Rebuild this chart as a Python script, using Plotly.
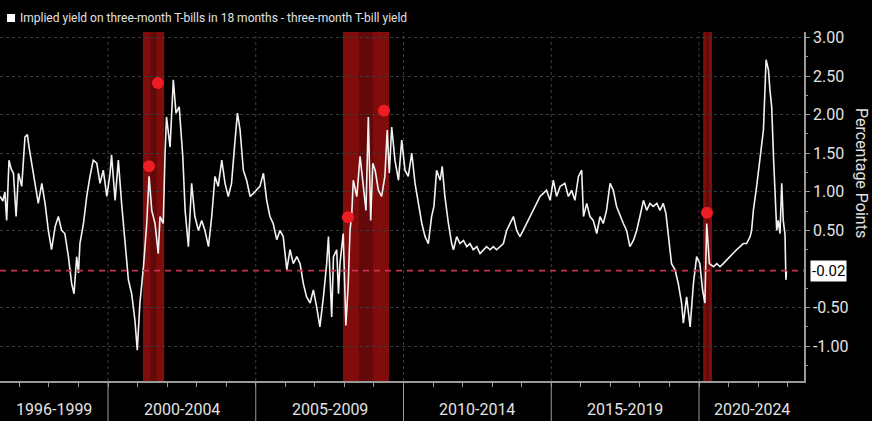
import plotly.graph_objects as go

# ---- data (decimal years, percentage points) ----
years = [
 1996.35,1996.44,1996.51,1996.57,1996.65,1996.72,1996.80,1996.89,1996.97,1997.08,
 1997.19,1997.27,1997.34,1997.42,1997.53,1997.64,1997.76,1997.87,1997.98,1998.09,
 1998.21,1998.32,1998.43,1998.54,1998.66,1998.77,1998.85,1998.94,1999.00,1999.05,
 1999.17,1999.28,1999.39,1999.50,1999.62,1999.73,1999.84,1999.96,2000.07,2000.12,
 2000.24,2000.35,2000.46,2000.58,2000.69,2000.80,2000.91,2000.99,2001.08,2001.20,
 2001.31,2001.39,2001.48,2001.59,2001.70,2001.76,2001.87,2001.93,2001.98,2002.10,
 2002.21,2002.30,2002.41,2002.53,2002.61,2002.72,2002.83,2002.94,2003.06,2003.17,
 2003.28,2003.40,2003.51,2003.62,2003.73,2003.85,2003.96,2004.07,2004.18,2004.30,
 2004.38,2004.47,2004.58,2004.69,2004.81,2004.92,2005.03,2005.14,2005.26,2005.37,
 2005.48,2005.59,2005.71,2005.82,2005.93,2006.05,2006.16,2006.27,2006.39,2006.50,
 2006.61,2006.72,2006.84,2006.95,2007.06,2007.17,2007.29,2007.40,2007.46,2007.51,
 2007.57,2007.63,2007.74,2007.80,2007.85,2007.96,2008.02,2008.05,2008.13,2008.19,
 2008.25,2008.30,2008.42,2008.53,2008.64,2008.73,2008.81,2008.89,2008.96,2009.04,
 2009.15,2009.26,2009.37,2009.45,2009.52,2009.60,2009.71,2009.83,2009.94,2010.05,
 2010.16,2010.28,2010.39,2010.50,2010.62,2010.73,2010.84,2010.95,2011.03,2011.12,
 2011.24,2011.31,2011.40,2011.52,2011.63,2011.69,2011.80,2011.91,2012.03,2012.14,
 2012.25,2012.36,2012.48,2012.59,2012.70,2012.81,2012.93,2013.04,2013.15,2013.27,
 2013.38,2013.49,2013.60,2013.72,2013.83,2013.94,2014.05,2014.17,2014.28,2014.39,
 2014.51,2014.62,2014.73,2014.84,2014.96,2015.07,2015.18,2015.30,2015.46,2015.58,
 2015.69,2015.80,2015.92,2016.03,2016.09,2016.20,2016.31,2016.42,2016.54,2016.65,
 2016.76,2016.87,2016.99,2017.10,2017.21,2017.33,2017.44,2017.55,2017.66,2017.78,
 2017.89,2018.00,2018.12,2018.23,2018.34,2018.45,2018.57,2018.68,2018.79,2018.88,
 2018.96,2019.07,2019.19,2019.30,2019.41,2019.47,2019.58,2019.70,2019.81,2019.92,
 2020.03,2020.12,2020.20,2020.26,2020.35,2020.49,2020.60,2020.71,2020.82,2020.94,
 2021.05,2021.16,2021.27,2021.39,2021.50,2021.61,2021.73,2021.78,2021.84,2021.95,
 2022.06,2022.18,2022.27,2022.35,2022.40,2022.46,2022.52,2022.57,2022.63,2022.68,
 2022.74,2022.80,2022.85,2022.91,2022.94,2022.96,
]
spread = [
 0.94,0.88,1.00,0.63,1.41,1.30,1.24,0.68,1.24,1.07,
 1.71,1.74,1.55,1.37,1.11,0.85,1.11,0.85,0.50,0.25,
 0.55,0.68,0.50,0.46,0.16,-0.19,-0.32,0.16,-0.05,0.33,
 0.59,0.94,1.20,1.41,1.37,1.11,1.28,0.94,1.24,1.48,
 0.89,1.41,0.85,0.29,-0.14,-0.32,-0.66,-1.05,-0.44,0.03,
 0.59,1.20,0.76,0.59,0.20,0.68,0.59,1.50,1.97,1.58,
 2.45,2.02,2.10,1.46,0.76,0.29,1.11,0.68,0.50,0.63,
 0.50,0.29,0.68,1.20,1.07,1.41,1.11,0.94,1.11,1.67,
 2.02,1.80,1.28,1.15,0.94,0.98,1.02,1.07,1.24,0.89,
 0.68,0.59,0.38,0.50,0.42,-0.01,0.25,0.07,0.16,0.07,
 -0.19,-0.36,-0.44,-0.27,-0.49,-0.75,-0.36,0.07,0.42,-0.19,
 -0.62,0.16,0.25,-0.32,0.07,0.46,-0.27,-0.73,-0.19,0.50,
 0.72,1.15,0.94,1.46,1.07,0.76,1.97,0.63,1.37,1.28,
 1.02,0.94,1.20,1.80,1.24,1.84,1.41,1.15,1.67,1.28,
 1.20,1.50,1.11,0.85,0.59,0.42,0.33,0.68,0.81,1.28,
 1.15,1.33,0.94,0.59,0.33,0.25,0.42,0.33,0.37,0.29,
 0.33,0.25,0.29,0.20,0.25,0.29,0.25,0.29,0.25,0.29,
 0.33,0.50,0.59,0.68,0.50,0.42,0.50,0.59,0.68,0.76,
 0.85,0.94,0.98,1.02,0.89,1.15,0.94,1.07,1.11,0.94,
 1.02,0.89,1.20,1.28,0.68,0.85,0.68,0.63,0.46,0.68,
 0.59,0.76,1.11,1.02,0.81,0.68,0.59,0.50,0.29,0.37,
 0.50,0.68,0.89,0.76,0.85,0.81,0.85,0.76,0.85,0.72,
 0.42,0.07,-0.01,-0.19,-0.44,-0.70,-0.36,-0.75,-0.19,0.16,
 0.07,-0.27,-0.44,0.59,0.07,0.03,0.07,0.03,0.07,0.12,
 0.16,0.20,0.25,0.29,0.33,0.33,0.42,0.50,0.76,1.07,
 1.46,1.80,2.71,2.58,2.32,2.10,1.46,0.94,0.50,0.63,
 0.46,1.11,0.63,0.45,-0.14,-0.02,
]

event_years = [2001.39, 2001.69, 2008.12, 2009.34, 2020.27]
event_values = [1.33, 2.41, 0.67, 2.05, 0.73]

recessions = [(2001.18, 2001.90), (2007.95, 2009.51), (2020.14, 2020.44)]
last_value = -0.02

period_labels = ["1996-1999", "2000-2004", "2005-2009", "2010-2014", "2015-2019", "2020-2024"]
period_edges = [1996.345, 2000, 2005, 2010, 2015, 2020, 2023.553]

y_ticks = [-1.0, -0.5, 0.5, 1.0, 1.5, 2.0, 2.5, 3.0]

legend_text = "Implied yield on three-month T-bills in 18 months - three-month T-bill yield"
axis_title = "Percentage Points"

# ---- figure ----
X0, X1 = period_edges[0], period_edges[-1]
Y0, Y1 = -1.45, 3.07
grey = "#9a9a9a"
txt = "#e2e2e2"
FONT = "Roboto"

fig = go.Figure()

shapes = []
for a, b in recessions:
    shapes.append(dict(type="rect", xref="x", yref="paper", x0=a, x1=b, y0=0, y1=1,
                       fillcolor="rgb(128,12,12)", line=dict(width=0), layer="below"))
    m = (a + b) / 2
    w = (b - a) * 0.3
    shapes.append(dict(type="rect", xref="x", yref="paper", x0=m - w / 2, x1=m + w / 2, y0=0, y1=1,
                       fillcolor="rgb(100,9,9)", line=dict(width=0), layer="below"))
for e in period_edges[1:-1]:
    shapes.append(dict(type="line", xref="x", yref="paper", x0=e, x1=e, y0=0, y1=1,
                       line=dict(color="#3c3c3c", width=1, dash="dot"), layer="below"))
    shapes.append(dict(type="line", xref="x", yref="paper", x0=e, x1=e, y0=0, y1=-40 / 349,
                       line=dict(color=grey, width=1)))
shapes.append(dict(type="line", xref="paper", yref="y", x0=0, x1=1, y0=last_value, y1=last_value,
                   line=dict(color="#c8324e", width=1.6, dash="6px,5px"), layer="above"))
# legend swatch
shapes.append(dict(type="rect", xref="paper", yref="paper", x0=7 / 804, x1=15 / 804,
                   y0=(381 - 22) / 349, y1=(381 - 14) / 349, fillcolor="white",
                   line=dict(width=0)))

fig.add_trace(go.Scatter(x=years, y=spread, mode="lines",
                         line=dict(color="#f2f2f2", width=1.6), hoverinfo="skip",
                         showlegend=False))
fig.add_trace(go.Scatter(x=event_years, y=event_values, mode="markers",
                         marker=dict(color="#ee1c24", size=12, symbol="circle",
                                     line=dict(color="#ff4040", width=0)),
                         showlegend=False, hoverinfo="skip"))

annotations = []
for lab, a, b in zip(period_labels, period_edges[:-1], period_edges[1:]):
    annotations.append(dict(text=lab, x=(a + b) / 2, xref="x", y=-(409.5 - 381) / 349, yref="paper",
                            showarrow=False, xanchor="center", yanchor="middle",
                            font=dict(family=FONT, size=16, color=txt)))
annotations.append(dict(text=legend_text, x=18 / 804, xref="paper", y=(381 - 18) / 349, yref="paper",
                        showarrow=False, xanchor="left", yanchor="middle",
                        font=dict(family=FONT, size=12, color=txt)))
annotations.append(dict(text=axis_title, x=862 / 804, xref="paper", y=(381 - 173) / 349, yref="paper",
                        showarrow=False, xanchor="center", yanchor="middle", textangle=90,
                        font=dict(family=FONT, size=16, color=txt)))
annotations.append(dict(text=f"{last_value:.2f}", x=1, xref="paper", y=last_value, yref="y",
                        xshift=6, showarrow=False, xanchor="left", yanchor="middle",
                        bgcolor="white", borderpad=1,
                        font=dict(family=FONT, size=15, color="black")))

fig.update_layout(
    width=872, height=421,
    margin=dict(l=0, r=68, t=32, b=40),
    paper_bgcolor="black", plot_bgcolor="black",
    shapes=shapes, annotations=annotations, showlegend=False,
    xaxis=dict(range=[X0, X1], showgrid=False, zeroline=False, showline=True,
               linecolor=grey, linewidth=1.5, ticks="outside", ticklen=4,
               tickcolor=grey, tickvals=list(range(1997, 2024)), showticklabels=False),
    yaxis=dict(range=[Y0, Y1], side="right", showgrid=True, gridcolor="#3c3c3c",
               griddash="dot", gridwidth=1, zeroline=False, showline=True,
               linecolor=grey, linewidth=1.5, ticks="outside", ticklen=4, tickcolor=grey,
               tickvals=y_ticks, ticktext=[f"{v:.2f}" for v in y_ticks],
               tickfont=dict(family=FONT, size=16, color=txt),
               minor=dict(tickvals=[-1.25, -0.75, -0.25, 0.25, 0.75, 1.25, 1.75, 2.25, 2.75],
                          ticks="outside", ticklen=2, tickcolor=grey, showgrid=False)),
)

fig.write_html("out.html", config={"displayModeBar": False},
               post_script="document.body.style.margin='0';document.body.style.overflow='hidden';document.body.style.background='black';")
